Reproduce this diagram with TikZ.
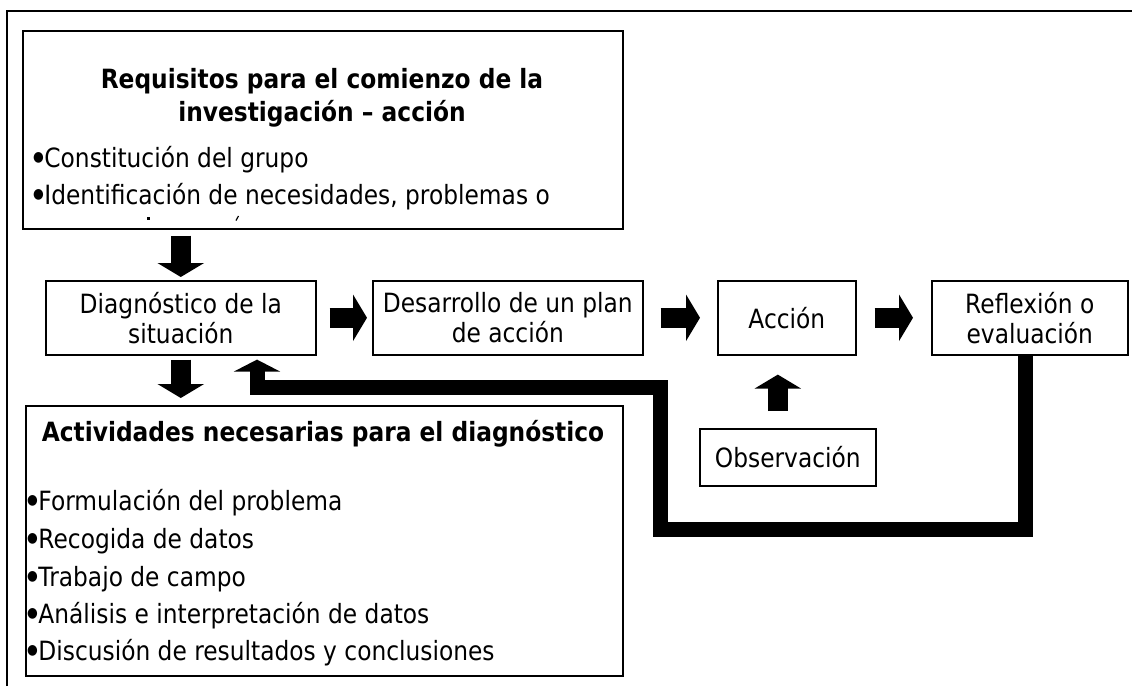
\documentclass[tikz,border=0pt]{standalone}
\usepackage{fontspec}
\setmainfont[FakeStretch=0.88]{DejaVu Sans}
\usetikzlibrary{arrows.meta,calc}
\newcommand\blt{\raisebox{5.5pt}{\fontsize{14}{14}\selectfont ●}\kern0.5pt}
\begin{document}
\begin{tikzpicture}[x=1pt,y=-1pt,
  box/.style={draw, line width=1.6pt, inner sep=0pt, anchor=north west},
  flowtext/.style={align=center, font=\fontsize{26.5}{30}\selectfont},
  btext/.style={anchor=base west, inner sep=0pt, font=\fontsize{26.5}{30}\selectfont},
  ttext/.style={anchor=base, inner sep=0pt, font=\bfseries\fontsize{26.5}{30}\selectfont},
  blockarrow/.style={line width=20pt, -{Triangle[width=46pt,length=14pt]}},
  loopline/.style={line width=15pt, line join=miter, -{Triangle[width=46pt,length=12pt]}}]
\useasboundingbox (0,0) rectangle (1132,686);
% outer frame
\draw[line width=1.5pt] (7,686) -- (7,11) -- (1132,11);
% top box
\node[box, minimum width=600pt, minimum height=198pt] (req) at (22,30) {};
\node[ttext] (t1) at (322,88) {Requisitos para el comienzo de la};
\node[ttext] (t2) at (322,121) {investigación – acción};
\node[btext] (b1) at (33,167) {\blt Constitución del grupo};
\node[btext] (b2) at (33,204) {\blt Identificación de necesidades, problemas o};
\fill (147,217) rectangle (149.5,219.5);
\draw[line width=1.2pt] (236,220.5) -- (238.5,216);
% flow boxes
\node[box, flowtext, minimum width=270pt, minimum height=74pt] (diag) at (45,280) {Diagnóstico de la\\situación};
\node[box, flowtext, minimum width=270pt, minimum height=74pt] (des) at (372,280) {Desarrollo de un plan\\de acción};
\node[box, flowtext, minimum width=138pt, minimum height=74pt] (acc) at (717,280) {Acción};
\node[box, flowtext, minimum width=196pt, minimum height=74pt] (refl) at (931,280) {Reflexión o\\evaluación};
\node[box, flowtext, minimum width=176pt, minimum height=57pt] (obs) at (699,428) {Observación};
% activities box
\node[box, minimum width=597pt, minimum height=270pt] (acts) at (25,405) {};
\node[ttext] (t3) at (323,441) {Actividades necesarias para el diagnóstico};
\node[btext] (c1) at (27,510) {\blt Formulación del problema};
\node[btext] (c2) at (27,548) {\blt Recogida de datos};
\node[btext] (c3) at (27,586) {\blt Trabajo de campo};
\node[btext] (c4) at (27,623) {\blt Análisis e interpretación de datos};
\node[btext] (c5) at (27,660) {\blt Discusión de resultados y conclusiones};
% arrows
\draw[blockarrow] ($(req.south -| diag.north)+(0,6)$) -- ($(diag.north)+(0,-3)$);
\draw[blockarrow] ($(diag.south)+(0,4)$) -- ($(acts.north -| diag.south)+(0,-7)$);
\draw[blockarrow] ($(diag.east)+(13,0)$) -- ($(des.west)+(-5,0)$);
\draw[blockarrow] ($(des.east)+(17,0)$) -- ($(acc.west)+(-17,0)$);
\draw[blockarrow] ($(acc.east)+(18,0)$) -- ($(refl.west)+(-18,0)$);
\draw[blockarrow] ($(obs.north)+(-10,-17)$) -- ($(acc.south)+(-9,19)$);
% feedback loop
\coordinate (loopbl) at (660,529);
\coordinate (fbx) at (257,387.5);
\draw[loopline] ($(refl.south)+(-4,0)$) |- (loopbl) |- (fbx) -- ($(diag.south -| fbx)+(0,4)$);
\end{tikzpicture}
\end{document}
